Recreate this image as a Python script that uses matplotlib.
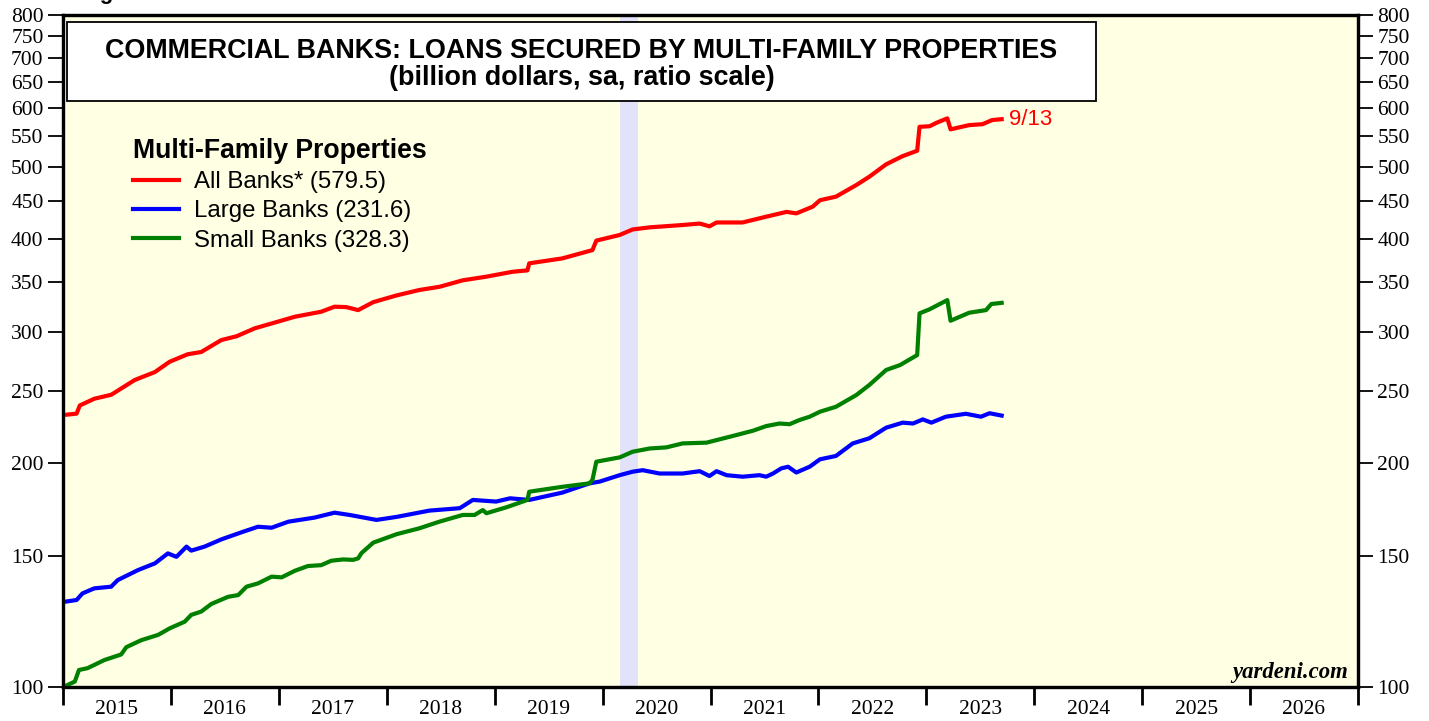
import matplotlib
matplotlib.use('Agg')
import matplotlib.pyplot as plt
import matplotlib.dates as mdates
from matplotlib.patches import Rectangle
from matplotlib.lines import Line2D
from matplotlib.ticker import FixedLocator, FuncFormatter, NullLocator
import pandas as pd

# values (billion dollars)
all_dates = ['2015-01-02', '2015-02-16', '2015-02-27', '2015-04-17', '2015-06-13', '2015-09-01',
             '2015-11-08', '2015-12-28', '2016-02-27', '2016-04-13', '2016-06-20', '2016-08-10',
             '2016-10-11', '2016-12-07', '2017-02-24', '2017-05-24', '2017-07-08', '2017-08-17',
             '2017-09-26', '2017-11-16', '2018-02-04', '2018-04-21', '2018-06-28', '2018-09-15',
             '2018-12-04', '2019-03-02', '2019-04-22', '2019-04-28', '2019-08-18', '2019-11-28',
             '2019-12-11', '2020-02-28', '2020-04-12', '2020-06-09', '2020-09-28', '2020-11-25',
             '2020-12-28', '2021-01-21', '2021-04-19', '2021-07-08', '2021-09-15', '2021-10-18',
             '2021-12-12', '2022-01-06', '2022-03-01', '2022-05-09', '2022-06-22', '2022-08-18',
             '2022-10-13', '2022-12-01', '2022-12-09', '2023-01-12', '2023-02-04', '2023-03-13',
             '2023-03-24', '2023-05-26', '2023-07-10', '2023-08-12', '2023-09-13']
all_banks = [232.0, 233.0, 239.0, 244.0, 247.0, 258.6,
             265.0, 273.6, 280.0, 282.0, 292.6, 296.0,
             303.4, 308.0, 314.5, 319.4, 324.4, 324.0,
             321.0, 329.0, 336.0, 341.6, 345.0, 352.0,
             356.0, 361.4, 363.0, 371.0, 376.7, 386.5,
             398.0, 405.0, 412.0, 414.7, 417.7, 419.6,
             416.0, 421.0, 421.0, 428.6, 435.0, 433.0,
             442.0, 451.0, 456.0, 472.7, 485.0, 504.0,
             517.0, 525.6, 566.0, 567.0, 573.0, 581.0,
             561.6, 569.0, 570.6, 578.0, 579.5]

large_dates = ['2015-01-08', '2015-02-16', '2015-03-08', '2015-04-17', '2015-06-13', '2015-07-05',
               '2015-09-12', '2015-11-08', '2015-12-22', '2016-01-20', '2016-02-23', '2016-03-10',
               '2016-04-24', '2016-06-20', '2016-08-27', '2016-10-22', '2016-12-07', '2017-02-02',
               '2017-05-01', '2017-07-08', '2017-08-28', '2017-11-27', '2018-02-04', '2018-05-25',
               '2018-09-05', '2018-10-19', '2019-01-06', '2019-02-22', '2019-04-28', '2019-08-18',
               '2019-11-18', '2019-12-22', '2020-02-28', '2020-04-12', '2020-05-16', '2020-07-12',
               '2020-09-28', '2020-11-25', '2020-12-28', '2021-01-21', '2021-02-24', '2021-04-19',
               '2021-06-15', '2021-07-08', '2021-07-31', '2021-08-28', '2021-09-20', '2021-10-18',
               '2021-12-02', '2022-01-06', '2022-03-01', '2022-04-27', '2022-06-22', '2022-08-18',
               '2022-10-13', '2022-11-17', '2022-12-20', '2023-01-18', '2023-03-08', '2023-05-15',
               '2023-07-05', '2023-08-03', '2023-09-13']
large_banks = [130.2, 130.9, 133.6, 135.7, 136.4, 139.2,
               143.6, 146.6, 151.2, 149.6, 154.4, 152.5,
               154.4, 157.9, 161.4, 164.2, 163.7, 166.8,
               168.9, 171.5, 170.3, 167.7, 169.3, 172.6,
               173.9, 178.4, 177.5, 179.3, 178.4, 182.5,
               187.8, 188.8, 192.6, 194.7, 195.6, 193.6,
               193.6, 195.0, 192.1, 195.0, 192.6, 191.7,
               192.6, 191.7, 193.6, 196.7, 197.7, 194.2,
               197.7, 202.3, 204.4, 212.5, 215.9, 223.1,
               226.6, 226.0, 228.9, 226.6, 230.8, 232.9,
               230.8, 233.3, 231.6]

small_dates = ['2015-01-02', '2015-02-10', '2015-02-24', '2015-03-25', '2015-05-21', '2015-07-17',
               '2015-08-03', '2015-09-23', '2015-11-19', '2015-12-28', '2016-02-17', '2016-03-10',
               '2016-04-13', '2016-05-17', '2016-07-13', '2016-08-16', '2016-09-13', '2016-10-22',
               '2016-12-07', '2017-01-10', '2017-02-24', '2017-04-09', '2017-05-24', '2017-06-27',
               '2017-08-06', '2017-09-09', '2017-09-26', '2017-10-07', '2017-11-16', '2018-02-04',
               '2018-04-21', '2018-06-28', '2018-09-15', '2018-10-25', '2018-11-22', '2018-12-04',
               '2019-02-10', '2019-04-22', '2019-04-28', '2019-08-18', '2019-11-18', '2019-11-28',
               '2019-12-11', '2020-02-28', '2020-04-12', '2020-06-09', '2020-08-04', '2020-09-28',
               '2020-12-18', '2021-03-16', '2021-05-24', '2021-07-08', '2021-08-22', '2021-09-25',
               '2021-10-28', '2021-12-02', '2022-01-06', '2022-03-01', '2022-05-09', '2022-06-22',
               '2022-08-18', '2022-10-04', '2022-12-01', '2022-12-09', '2023-01-12', '2023-03-13',
               '2023-03-24', '2023-05-26', '2023-07-22', '2023-08-09', '2023-09-13']
small_banks = [100.0, 101.7, 105.4, 106.0, 108.7, 110.6,
               113.1, 115.6, 117.5, 119.9, 122.4, 125.0,
               126.3, 129.3, 132.2, 132.9, 136.4, 137.8,
               140.7, 140.4, 143.3, 145.4, 145.8, 147.8,
               148.4, 148.2, 148.9, 151.3, 156.3, 160.5,
               163.4, 166.8, 170.3, 170.3, 172.9, 171.2,
               174.4, 178.4, 183.0, 185.8, 187.8, 189.8,
               200.8, 203.5, 207.1, 209.2, 209.9, 212.5,
               213.0, 217.4, 221.0, 224.2, 226.0, 225.5,
               228.4, 230.8, 234.4, 238.0, 246.8, 254.6,
               266.7, 270.8, 279.3, 317.8, 321.8, 331.1,
               310.6, 318.4, 321.0, 327.1, 328.3]

recession = ('2020-03-01', '2020-04-30')
yticks = [100, 150, 200, 250, 300, 350, 400, 450, 500, 550, 600, 650, 700, 750, 800]

sans = ['Liberation Sans', 'DejaVu Sans']
serif = ['Liberation Serif', 'DejaVu Serif']

fig = plt.figure(figsize=(14.29, 7.21), dpi=100)
ax = fig.add_axes([63/1429, 34/721, 1295/1429, 672/721])
ax.set_facecolor('#ffffe4')

ax.axvspan(pd.Timestamp(recession[0]), pd.Timestamp(recession[1]), color='#e2e2fa', lw=0, zorder=1)

ax.plot(pd.to_datetime(all_dates), all_banks, color='#ff0000', lw=3, zorder=4, solid_joinstyle='round')
ax.plot(pd.to_datetime(large_dates), large_banks, color='#0000ff', lw=3, zorder=3, solid_joinstyle='round')
ax.plot(pd.to_datetime(small_dates), small_banks, color='#008000', lw=3, zorder=3, solid_joinstyle='round')

ax.annotate('9/13', xy=(pd.Timestamp(all_dates[-1]), all_banks[-1]), xytext=(5, 0),
            textcoords='offset points', va='center', ha='left', color='#ff0000',
            fontsize=16, family=sans)

ax.set_xlim(pd.Timestamp('2015-01-01'), pd.Timestamp('2027-01-01'))

ax2 = ax.twinx()
for a in (ax, ax2):
    a.set_yscale('log')
    a.set_ylim(100, 800)
    a.yaxis.set_major_locator(FixedLocator(yticks))
    a.yaxis.set_major_formatter(FuncFormatter(lambda v, p: '%d' % round(v)))
    a.yaxis.set_minor_locator(NullLocator())
    a.tick_params(axis='y', which='major', direction='out', length=11, width=1.3,
                  labelsize=15.5, pad=3)
    for lab in a.get_yticklabels():
        lab.set_family(serif)
    for s in a.spines.values():
        s.set_linewidth(2.3)

ax.xaxis.set_major_locator(mdates.YearLocator())
ax.xaxis.set_major_formatter(plt.NullFormatter())
ax.xaxis.set_minor_locator(mdates.MonthLocator(bymonth=7, bymonthday=2))
ax.xaxis.set_minor_formatter(mdates.DateFormatter('%Y'))
ax.tick_params(axis='x', which='major', direction='out', length=13, width=2)
ax.tick_params(axis='x', which='minor', length=0, labelsize=15.5, pad=9)
for lab in ax.xaxis.get_minorticklabels():
    lab.set_family(serif)

# title box
ax.add_patch(Rectangle((0.003, 0.872), 0.795, 0.1176, transform=ax.transAxes,
                       facecolor='white', edgecolor='black', lw=1.3, zorder=6))
ax.text(0.4004, 0.946, 'COMMERCIAL BANKS: LOANS SECURED BY MULTI-FAMILY PROPERTIES',
        transform=ax.transAxes, ha='center', va='center', fontsize=19.4,
        fontweight='bold', family=sans, zorder=7)
ax.text(0.4004, 0.906, '(billion dollars, sa, ratio scale)',
        transform=ax.transAxes, ha='center', va='center', fontsize=19.4,
        fontweight='bold', family=sans, zorder=7)

handles = [Line2D([], [], color='#ff0000', lw=3),
           Line2D([], [], color='#0000ff', lw=3),
           Line2D([], [], color='#008000', lw=3)]
labels = ['All Banks* (%.1f)' % all_banks[-1],
          'Large Banks (%.1f)' % large_banks[-1],
          'Small Banks (%.1f)' % small_banks[-1]]
leg = ax.legend(handles, labels, title='Multi-Family Properties', loc='upper left',
                bbox_to_anchor=(133/1429, 1 - 138/721), bbox_transform=fig.transFigure,
                frameon=False, borderpad=0, borderaxespad=0, handlelength=1.9,
                handletextpad=0.62, labelspacing=0.3, alignment='left',
                prop={'family': sans, 'size': 17.3},
                title_fontproperties={'family': sans, 'size': 19.2, 'weight': 'bold'})
leg.set_zorder(8)

ax.text(0.9923, 0.0134, 'yardeni.com', transform=ax.transAxes, ha='right', va='baseline',
        fontsize=16.4, fontweight='bold', fontstyle='italic', family=serif, zorder=7)

# cut-off figure label at the very top
fig.text(80/1429, 1 + 1/721, 'Figure', ha='left', va='baseline', fontsize=16,
         fontweight='bold', family=sans)

fig.savefig('out.png', dpi=100)
